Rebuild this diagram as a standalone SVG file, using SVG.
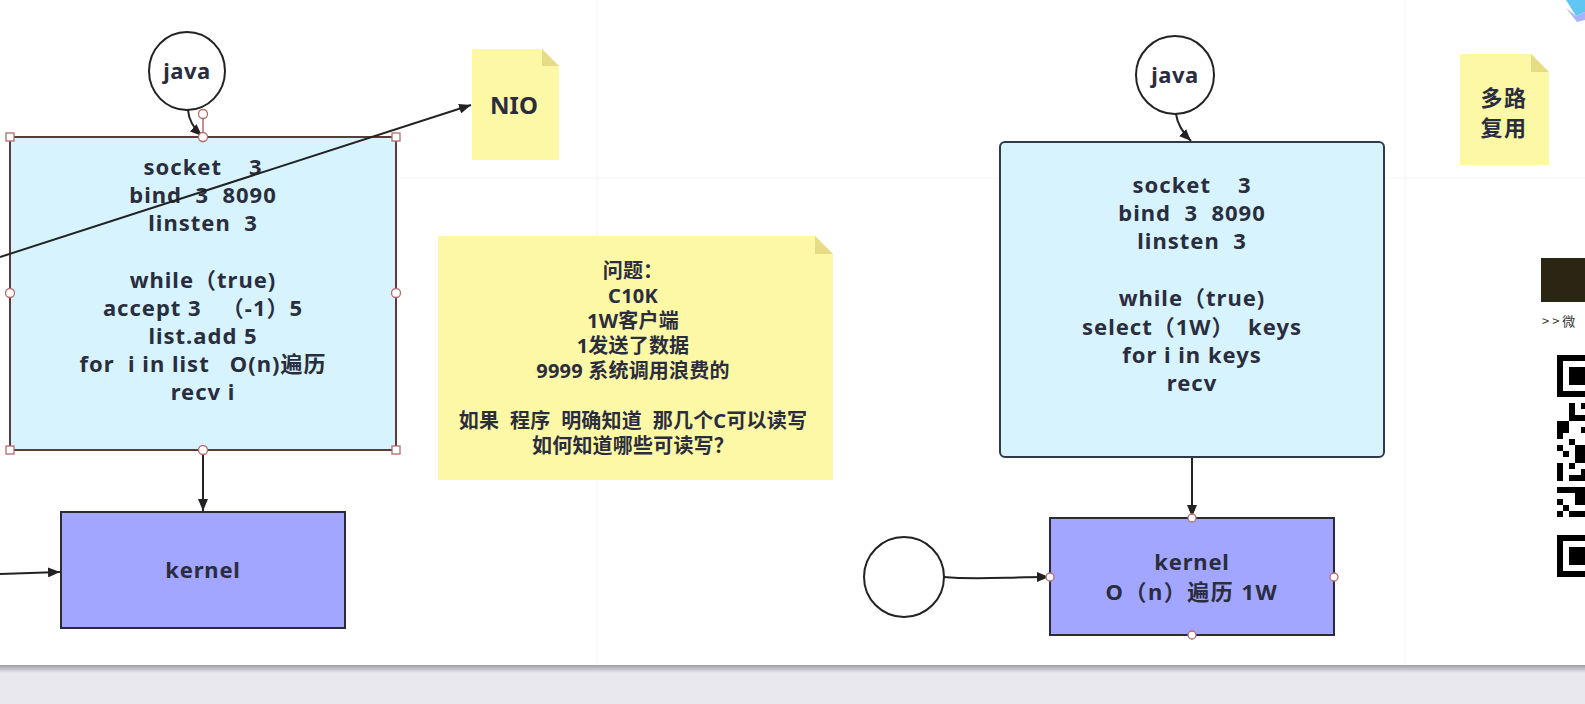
<svg xmlns="http://www.w3.org/2000/svg" width="1585" height="704" viewBox="0 0 1585 704">
<defs>
<style>
.t{font-family:'Noto Sans','Noto Sans CJK SC',sans-serif;font-weight:bold;fill:#2a2d3d;text-anchor:middle}
.bx{font-size:22px;letter-spacing:1px}
.nt{font-size:20px;letter-spacing:0.2px}
.proc{fill:#d7f4fe}
.kern{fill:#a2a6fe;stroke:#2a2a3a;stroke-width:2}
.note{fill:#fdf8a6}
.fold{fill:#e6dc86}
.conn{fill:none;stroke:#222;stroke-width:2}
.hs{fill:#fff;stroke:#b56a6a;stroke-width:1.3}
.grid{stroke:#f4f4f4;stroke-width:1}
</style>
<marker id="arr" viewBox="0 0 12 10" refX="12" refY="5" markerWidth="12" markerHeight="10" markerUnits="userSpaceOnUse" orient="auto">
<path d="M0,0 L12,5 L0,10 Z" fill="#222"/>
</marker>
<linearGradient id="shadow" x1="0" y1="0" x2="0" y2="1">
<stop offset="0" stop-color="#9c9ca2"/>
<stop offset="1" stop-color="#e9e8ee"/>
</linearGradient>
</defs>
<rect width="1585" height="704" fill="#fff"/>
<g id="grid">
<line class="grid" x1="597" y1="0" x2="597" y2="665"/>
<line class="grid" x1="1405" y1="0" x2="1405" y2="665"/>
<line class="grid" x1="400" y1="178" x2="1585" y2="178"/>
</g>

<g id="java1">
<ellipse cx="187" cy="71" rx="38" ry="39" fill="#fff" stroke="#222" stroke-width="2"/>
<text class="t" x="187" y="79" font-size="22" letter-spacing="0.5">java</text>
</g>

<g id="box1">
<rect class="proc" x="10" y="137" width="386" height="313" stroke="#5e3b3b" stroke-width="2"/>
<text class="t bx" x="203" y="175" xml:space="preserve">socket    3</text>
<text class="t bx" x="203" y="203" xml:space="preserve">bind  3  8090</text>
<text class="t bx" x="203" y="231" xml:space="preserve">linsten  3</text>
<text class="t bx" x="203" y="288" xml:space="preserve">while（true)</text>
<text class="t bx" x="203" y="316" xml:space="preserve">accept 3   （-1）5</text>
<text class="t bx" x="203" y="344" xml:space="preserve">list.add 5</text>
<text class="t bx" x="203" y="372" xml:space="preserve">for  i in list   O(n)遍历</text>
<text class="t bx" x="203" y="400" xml:space="preserve">recv i</text>
</g>

<g id="nio">
<path class="note" d="M472,49 H542 L559,66 V160 H472 Z"/>
<path class="fold" d="M542,49 L559,66 H542 Z"/>
<text class="t" x="514" y="114" font-size="24">NIO</text>
</g>

<g id="kernel1">
<rect class="kern" x="61" y="512" width="284" height="116"/>
<text class="t" x="203" y="578" font-size="22" letter-spacing="0.8">kernel</text>
</g>

<g id="question">
<path class="note" d="M438,236 H815 L833,254 V480 H438 Z"/>
<path class="fold" d="M815,236 L833,254 H815 Z"/>
<text class="t nt" x="633" y="278">问题：</text>
<text class="t nt" x="633" y="303">C10K</text>
<text class="t nt" x="633" y="328">1W客户端</text>
<text class="t nt" x="633" y="353">1发送了数据</text>
<text class="t nt" x="633" y="378" xml:space="preserve">9999 系统调用浪费的</text>
<text class="t nt" x="633" y="428" xml:space="preserve">如果  程序  明确知道  那几个C可以读写</text>
<text class="t nt" x="633" y="453">如何知道哪些可读写？</text>
</g>

<g id="java2">
<circle cx="1175" cy="75" r="39" fill="#fff" stroke="#222" stroke-width="2"/>
<text class="t" x="1175" y="83" font-size="22" letter-spacing="0.5">java</text>
</g>

<g id="box2">
<rect class="proc" x="1000" y="142" width="384" height="315" rx="5" stroke="#2f3a48" stroke-width="2"/>
<text class="t bx" x="1192" y="193" xml:space="preserve">socket    3</text>
<text class="t bx" x="1192" y="221" xml:space="preserve">bind  3  8090</text>
<text class="t bx" x="1192" y="249" xml:space="preserve">linsten  3</text>
<text class="t bx" x="1192" y="306" xml:space="preserve">while（true)</text>
<text class="t bx" x="1192" y="335" xml:space="preserve">select（1W）  keys</text>
<text class="t bx" x="1192" y="363" xml:space="preserve">for i in keys</text>
<text class="t bx" x="1192" y="391" xml:space="preserve">recv</text>
</g>

<g id="multiplex">
<path class="note" d="M1460,54 H1531 L1549,72 V165 H1460 Z"/>
<path class="fold" d="M1531,54 L1549,72 H1531 Z"/>
<text class="t" x="1504" y="106" font-size="22" letter-spacing="1.5">多路</text>
<text class="t" x="1504" y="136" font-size="22" letter-spacing="1.5">复用</text>
</g>

<g id="client">
<circle cx="904" cy="577" r="40" fill="#fff" stroke="#222" stroke-width="2"/>
</g>

<g id="kernel2">
<rect class="kern" x="1050" y="518" width="284" height="117"/>
<text class="t" x="1192" y="570" font-size="22" letter-spacing="0.8">kernel</text>
<text class="t" x="1192" y="600" font-size="22" letter-spacing="1.5" xml:space="preserve">O（n）遍历 1W</text>
</g>

<g id="connectors">
<path class="conn" d="M0,257 L471,105" marker-end="url(#arr)"/>
<path class="conn" d="M188,110 Q189,124 202,136" marker-end="url(#arr)"/>
<path class="conn" d="M203,451 V511" marker-end="url(#arr)"/>
<path class="conn" d="M0,574 L60,572" marker-end="url(#arr)"/>
<path class="conn" d="M1176,114 Q1178,128 1191,141" marker-end="url(#arr)"/>
<path class="conn" d="M1192,458 V517" marker-end="url(#arr)"/>
<path class="conn" d="M944,577 C975,580 1005,577 1049,577" marker-end="url(#arr)"/>
</g>

<g id="handles">
<line x1="203" y1="118" x2="203" y2="137" stroke="#b56a6a" stroke-width="1.5"/>
<circle class="hs" cx="203" cy="114" r="4.5"/>
<rect class="hs" x="6" y="133" width="8" height="8"/>
<rect class="hs" x="392" y="133" width="8" height="8"/>
<rect class="hs" x="6" y="446" width="8" height="8"/>
<rect class="hs" x="392" y="446" width="8" height="8"/>
<circle class="hs" cx="203" cy="137" r="4.5"/>
<circle class="hs" cx="203" cy="450" r="4.5"/>
<circle class="hs" cx="10" cy="293" r="4.5"/>
<circle class="hs" cx="396" cy="293" r="4.5"/>
<circle class="hs" cx="1192" cy="518" r="4"/>
<circle class="hs" cx="1192" cy="635" r="4"/>
<circle class="hs" cx="1050" cy="577" r="4"/>
<circle class="hs" cx="1334" cy="577" r="4"/>
</g>

<g id="sidebar">
<path d="M1566,0 H1585 V12 L1576,16 Z" fill="#62c6f4"/>
<path d="M1566,8 L1576,16 L1585,12 V20 L1577,22 Z" fill="#a9b4ff"/>
<rect x="1541" y="258" width="44" height="44" fill="#2b2614"/>
<text x="1542" y="326" font-family="'Noto Sans CJK SC',sans-serif" font-size="13" fill="#333" xml:space="preserve">&gt; &gt; 微</text>
<g fill="#000">
<rect x="1557" y="355" width="6" height="42"/>
<rect x="1557" y="355" width="28" height="6"/>
<rect x="1557" y="391" width="28" height="6"/>
<rect x="1569" y="367" width="16" height="18"/>
<rect x="1557" y="535" width="6" height="42"/>
<rect x="1557" y="535" width="28" height="6"/>
<rect x="1557" y="571" width="28" height="6"/>
<rect x="1569" y="547" width="16" height="18"/>
<rect x="1569" y="403" width="6" height="18"/>
<rect x="1575" y="415" width="10" height="6"/>
<rect x="1581" y="403" width="4" height="6"/>
<rect x="1557" y="421" width="12" height="12"/>
<rect x="1557" y="433" width="6" height="6"/>
<rect x="1581" y="427" width="4" height="6"/>
<rect x="1569" y="439" width="6" height="6"/>
<rect x="1557" y="445" width="6" height="6"/>
<rect x="1563" y="451" width="6" height="6"/>
<rect x="1575" y="445" width="10" height="18"/>
<rect x="1557" y="463" width="6" height="18"/>
<rect x="1569" y="463" width="6" height="6"/>
<rect x="1569" y="475" width="16" height="6"/>
<rect x="1581" y="469" width="4" height="6"/>
<rect x="1557" y="487" width="28" height="6"/>
<rect x="1575" y="493" width="10" height="12"/>
<rect x="1557" y="499" width="6" height="6"/>
<rect x="1563" y="505" width="6" height="6"/>
<rect x="1557" y="511" width="6" height="6"/>
<rect x="1569" y="511" width="16" height="6"/>
</g>
</g>

<g id="bottom-band">
<rect x="0" y="665" width="1585" height="39" fill="#e9e8ee"/>
<rect x="0" y="665" width="1585" height="8" fill="url(#shadow)"/>
</g>
</svg>
